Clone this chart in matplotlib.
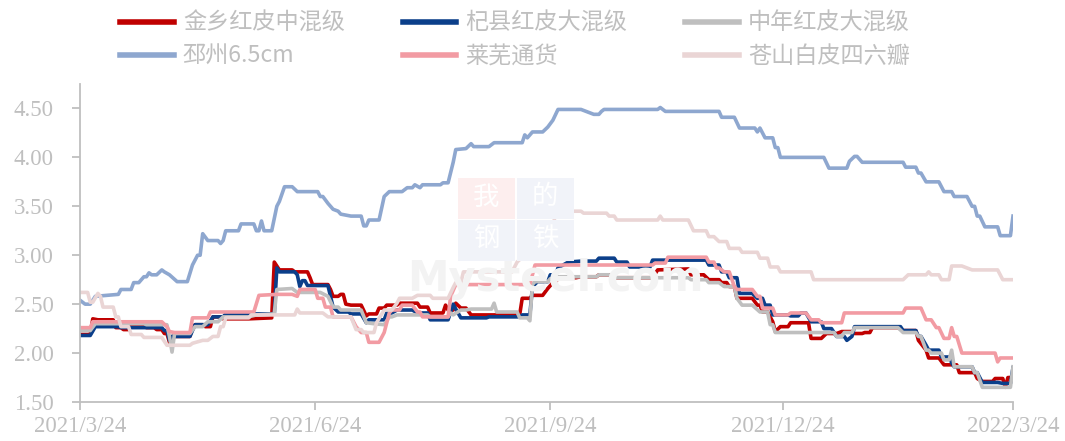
import matplotlib.pyplot as plt
import pandas as pd
from matplotlib.patches import Rectangle

plt.rcParams['font.family'] = ['Noto Sans CJK SC', 'DejaVu Sans']

start = pd.Timestamp('2021-03-24')

# days since 2021/3/24 and prices (yuan/kg)
jinxiang_days = [0, 4, 5, 7, 13, 14, 16, 17, 19, 20, 25, 26, 29, 30, 32, 33, 34, 35, 36, 43, 44, 45, 48, 49, 51,
                 52, 55, 56, 66, 75, 76, 78, 83, 84, 89, 90, 91, 97, 98, 99, 101, 102, 103, 104, 106, 110, 112, 113,
                 116, 117, 119, 120, 124, 125, 132, 133, 136, 137, 142, 143, 144, 146, 147, 149, 151, 153, 172, 173,
                 176, 177, 181, 183, 185, 186, 187, 194, 196, 202, 203, 207, 209, 224, 226, 238, 239, 244, 246, 250,
                 251, 253, 254, 256, 257, 263, 265, 266, 267, 269, 271, 272, 274, 277, 278, 285, 286, 290, 292, 296,
                 298, 302, 303, 306, 307, 309, 310, 320, 322, 327, 328, 331, 332, 336, 338, 343, 344, 350, 351, 353,
                 357, 358, 361, 362, 363, 365]
jinxiang_vals = [2.19, 2.19, 2.35, 2.34, 2.34, 2.26, 2.26, 2.24, 2.24, 2.29, 2.29, 2.26, 2.26, 2.24, 2.24, 2.20,
                 2.20, 2.11, 2.17, 2.17, 2.26, 2.29, 2.29, 2.27, 2.27, 2.37, 2.37, 2.35, 2.35, 2.36, 2.93, 2.85,
                 2.85, 2.83, 2.83, 2.77, 2.70, 2.70, 2.65, 2.58, 2.58, 2.60, 2.60, 2.50, 2.49, 2.49, 2.38, 2.40,
                 2.40, 2.46, 2.46, 2.49, 2.49, 2.51, 2.51, 2.47, 2.47, 2.41, 2.41, 2.49, 2.44, 2.44, 2.51, 2.46,
                 2.46, 2.39, 2.39, 2.56, 2.56, 2.59, 2.59, 2.66, 2.72, 2.72, 2.77, 2.77, 2.78, 2.78, 2.80, 2.80,
                 2.77, 2.77, 2.85, 2.86, 2.80, 2.80, 2.75, 2.75, 2.72, 2.72, 2.68, 2.68, 2.56, 2.56, 2.49, 2.49,
                 2.42, 2.42, 2.32, 2.22, 2.27, 2.27, 2.31, 2.31, 2.15, 2.15, 2.20, 2.20, 2.22, 2.22, 2.20, 2.20,
                 2.21, 2.21, 2.26, 2.26, 2.23, 2.23, 2.13, 2.03, 1.95, 1.95, 1.88, 1.88, 1.80, 1.80, 1.74, 1.71,
                 1.71, 1.74, 1.74, 1.65, 1.75, 1.75]

qixian_days = [0, 4, 6, 15, 16, 32, 33, 34, 35, 36, 43, 45, 50, 52, 56, 57, 76, 77, 78, 84, 85, 86, 87, 88, 89, 97,
               99, 101, 105, 106, 110, 112, 113, 119, 120, 122, 124, 130, 132, 136, 137, 144, 146, 147, 149, 159,
               160, 172, 173, 176, 177, 179, 183, 184, 186, 187, 191, 196, 202, 203, 209, 210, 214, 215, 223, 224,
               245, 246, 250, 251, 253, 254, 257, 258, 263, 265, 267, 268, 270, 271, 277, 278, 281, 282, 284, 286,
               290, 291, 294, 296, 299, 300, 302, 303, 321, 322, 327, 328, 329, 331, 332, 336, 337, 340, 341, 342,
               349, 350, 351, 353, 359, 361, 364, 365]
qixian_vals = [2.18, 2.18, 2.27, 2.27, 2.26, 2.26, 2.23, 2.23, 2.13, 2.17, 2.17, 2.29, 2.29, 2.37, 2.37, 2.40,
               2.40, 2.87, 2.83, 2.83, 2.80, 2.68, 2.74, 2.74, 2.69, 2.69, 2.47, 2.42, 2.42, 2.40, 2.40, 2.31,
               2.34, 2.34, 2.41, 2.41, 2.44, 2.44, 2.41, 2.41, 2.34, 2.34, 2.50, 2.45, 2.36, 2.36, 2.37, 2.37,
               2.39, 2.39, 2.68, 2.73, 2.73, 2.80, 2.80, 2.87, 2.93, 2.94, 2.94, 2.97, 2.97, 2.93, 2.93, 2.88,
               2.88, 2.95, 2.95, 2.90, 2.90, 2.83, 2.83, 2.77, 2.77, 2.61, 2.61, 2.56, 2.56, 2.49, 2.49, 2.39,
               2.39, 2.38, 2.38, 2.41, 2.41, 2.32, 2.32, 2.25, 2.25, 2.17, 2.17, 2.13, 2.17, 2.27, 2.27, 2.23,
               2.23, 2.17, 2.17, 2.08, 2.03, 2.03, 1.96, 1.96, 1.90, 1.86, 1.86, 1.80, 1.80, 1.70, 1.70, 1.69,
               1.69, 1.85]

zhongmou_days = [0, 4, 6, 25, 26, 34, 35, 36, 37, 43, 45, 48, 50, 54, 56, 66, 69, 76, 77, 83, 85, 94, 97, 99, 101,
                 102, 110, 112, 115, 119, 121, 122, 124, 136, 137, 144, 145, 146, 149, 151, 153, 161, 162, 163, 171,
                 172, 175, 176, 177, 178, 183, 184, 186, 187, 202, 203, 207, 209, 238, 239, 245, 246, 250, 252, 256,
                 257, 259, 263, 266, 269, 270, 271, 272, 295, 296, 298, 299, 302, 303, 320, 322, 327, 328, 329, 331,
                 332, 333, 337, 338, 340, 341, 342, 349, 350, 351, 353, 364, 365]
zhongmou_vals = [2.23, 2.23, 2.30, 2.30, 2.29, 2.29, 2.17, 2.01, 2.20, 2.20, 2.27, 2.27, 2.32, 2.32, 2.37, 2.37,
                 2.39, 2.40, 2.65, 2.66, 2.62, 2.62, 2.58, 2.47, 2.47, 2.44, 2.44, 2.31, 2.30, 2.29, 2.37, 2.37,
                 2.39, 2.39, 2.37, 2.37, 2.41, 2.39, 2.44, 2.44, 2.45, 2.45, 2.51, 2.42, 2.42, 2.36, 2.36, 2.33,
                 2.70, 2.73, 2.73, 2.76, 2.76, 2.78, 2.78, 2.80, 2.80, 2.77, 2.77, 2.75, 2.75, 2.72, 2.72, 2.68,
                 2.68, 2.56, 2.49, 2.49, 2.42, 2.42, 2.29, 2.29, 2.21, 2.21, 2.17, 2.17, 2.21, 2.21, 2.26, 2.26,
                 2.21, 2.21, 2.17, 2.17, 2.03, 2.03, 2.00, 2.00, 1.93, 1.93, 2.03, 1.86, 1.86, 1.80, 1.80, 1.65,
                 1.65, 1.86]

pizhou_days = [0, 2, 4, 6, 15, 16, 20, 21, 23, 25, 26, 27, 28, 30, 32, 33, 35, 38, 42, 44, 46, 47, 48, 50, 54, 55,
               56, 57, 62, 63, 68, 69, 70, 71, 72, 75, 77, 78, 80, 83, 85, 93, 94, 95, 97, 99, 101, 102, 106, 110,
               111, 112, 113, 117, 119, 121, 126, 128, 130, 131, 133, 134, 141, 142, 144, 146, 147, 151, 153, 154,
               160, 162, 173, 174, 175, 177, 181, 183, 185, 187, 196, 198, 201, 203, 204, 205, 226, 227, 229, 250,
               251, 256, 258, 264, 265, 266, 268, 271, 272, 273, 274, 291, 293, 300, 301, 303, 304, 306, 322, 323,
               327, 328, 329, 331, 336, 338, 341, 342, 347, 349, 350, 351, 352, 354, 359, 360, 364, 365]
pizhou_vals = [2.54, 2.50, 2.50, 2.58, 2.60, 2.65, 2.65, 2.72, 2.72, 2.78, 2.78, 2.82, 2.80, 2.80, 2.85, 2.83,
               2.80, 2.73, 2.73, 2.90, 3.00, 3.00, 3.22, 3.15, 3.15, 3.12, 3.15, 3.25, 3.25, 3.32, 3.32, 3.25,
               3.25, 3.35, 3.25, 3.25, 3.50, 3.55, 3.70, 3.70, 3.65, 3.65, 3.60, 3.60, 3.53, 3.47, 3.45, 3.42,
               3.40, 3.40, 3.30, 3.30, 3.36, 3.36, 3.60, 3.65, 3.65, 3.69, 3.69, 3.72, 3.69, 3.72, 3.72, 3.74,
               3.74, 3.95, 4.08, 4.09, 4.14, 4.11, 4.11, 4.15, 4.15, 4.23, 4.20, 4.26, 4.26, 4.31, 4.38, 4.49,
               4.49, 4.47, 4.44, 4.44, 4.47, 4.49, 4.49, 4.51, 4.47, 4.47, 4.41, 4.41, 4.30, 4.30, 4.26, 4.30,
               4.20, 4.20, 4.10, 4.10, 4.00, 4.00, 3.89, 3.89, 3.96, 4.01, 4.01, 3.95, 3.95, 3.90, 3.90, 3.84,
               3.84, 3.75, 3.75, 3.65, 3.65, 3.60, 3.60, 3.50, 3.50, 3.40, 3.40, 3.29, 3.29, 3.20, 3.20, 3.40]

laiwu_days = [0, 4, 5, 32, 34, 35, 37, 43, 44, 50, 51, 68, 70, 77, 83, 85, 86, 91, 92, 93, 95, 96, 98, 99, 106, 108,
              110, 112, 113, 117, 119, 121, 122, 125, 126, 130, 132, 133, 134, 144, 145, 147, 176, 178, 224, 225,
              229, 230, 245, 246, 248, 249, 250, 252, 254, 256, 257, 263, 265, 266, 267, 271, 272, 277, 278, 284,
              286, 289, 290, 298, 299, 322, 323, 329, 331, 333, 335, 336, 338, 340, 341, 342, 343, 345, 358, 359,
              360, 365]
laiwu_vals = [2.26, 2.26, 2.32, 2.32, 2.27, 2.22, 2.21, 2.21, 2.36, 2.36, 2.42, 2.42, 2.59, 2.60, 2.60, 2.58,
              2.65, 2.65, 2.65, 2.56, 2.56, 2.47, 2.47, 2.37, 2.37, 2.27, 2.21, 2.21, 2.11, 2.11, 2.21, 2.41,
              2.44, 2.44, 2.49, 2.49, 2.42, 2.42, 2.37, 2.37, 2.58, 2.70, 2.70, 2.90, 2.90, 2.92, 2.92, 2.98,
              2.98, 2.93, 2.93, 2.87, 2.87, 2.83, 2.83, 2.68, 2.65, 2.65, 2.58, 2.58, 2.46, 2.46, 2.39, 2.39,
              2.41, 2.41, 2.34, 2.34, 2.31, 2.31, 2.41, 2.41, 2.46, 2.46, 2.34, 2.34, 2.26, 2.26, 2.15, 2.15,
              2.26, 2.17, 2.17, 2.00, 2.00, 1.91, 1.95, 1.95]

cangshan_days = [0, 3, 4, 5, 7, 8, 9, 13, 14, 15, 16, 19, 20, 24, 25, 32, 34, 43, 44, 48, 50, 52, 54, 55, 56, 57,
                 66, 67, 84, 85, 86, 95, 97, 106, 108, 110, 111, 115, 116, 119, 122, 124, 125, 130, 132, 137, 138,
                 144, 146, 147, 149, 150, 169, 171, 173, 176, 177, 184, 186, 187, 196, 197, 206, 207, 209, 210, 226,
                 227, 228, 238, 240, 245, 246, 248, 250, 253, 254, 258, 259, 265, 266, 269, 270, 273, 274, 286, 287,
                 322, 324, 331, 332, 333, 336, 337, 340, 341, 345, 347, 349, 359, 361, 365]
cangshan_vals = [2.62, 2.62, 2.52, 2.52, 2.61, 2.58, 2.47, 2.47, 2.37, 2.37, 2.27, 2.27, 2.19, 2.19, 2.16, 2.16,
                 2.08, 2.08, 2.10, 2.13, 2.13, 2.17, 2.17, 2.27, 2.27, 2.36, 2.36, 2.39, 2.39, 2.45, 2.41, 2.41,
                 2.37, 2.37, 2.24, 2.24, 2.21, 2.21, 2.31, 2.44, 2.44, 2.51, 2.56, 2.56, 2.59, 2.59, 2.56, 2.56,
                 2.67, 2.72, 2.72, 2.83, 2.83, 2.93, 2.98, 3.09, 3.13, 3.13, 3.43, 3.45, 3.45, 3.43, 3.43, 3.40,
                 3.40, 3.36, 3.36, 3.40, 3.36, 3.36, 3.25, 3.25, 3.19, 3.19, 3.14, 3.14, 3.07, 3.07, 3.03, 3.03,
                 2.97, 2.97, 2.88, 2.88, 2.83, 2.83, 2.75, 2.75, 2.80, 2.80, 2.83, 2.80, 2.80, 2.75, 2.75, 2.89,
                 2.89, 2.87, 2.85, 2.85, 2.75, 2.75]

series = [
    ('金乡红皮中混级', jinxiang_days, jinxiang_vals, '#c00000'),
    ('杞县红皮大混级', qixian_days, qixian_vals, '#0b3f8a'),
    ('中年红皮大混级', zhongmou_days, zhongmou_vals, '#bfbfbf'),
    ('邳州6.5cm', pizhou_days, pizhou_vals, '#8ea7cf'),
    ('莱芜通货', laiwu_days, laiwu_vals, '#f29ba3'),
    ('苍山白皮四六瓣', cangshan_days, cangshan_vals, '#ead5d5'),
]

tick_dates = ['2021-03-24', '2021-06-24', '2021-09-24', '2021-12-24', '2022-03-24']
tick_labels = ['2021/3/24', '2021/6/24', '2021/9/24', '2021/12/24', '2022/3/24']
y_ticks = [1.5, 2.0, 2.5, 3.0, 3.5, 4.0, 4.5]

W, H = 1065, 441
fig = plt.figure(figsize=(W / 100, H / 100), dpi=100)
ax = fig.add_axes([80 / W, 39 / H, 933 / W, 318 / H])

txt = '#bfbfbf'

# faint watermark behind the lines
for (x0, y0), ch, fc in [((458, 178), '我', '#fdeeee'), ((517, 178), '的', '#f1f3f9'),
                         ((458, 220), '钢', '#f1f3f9'), ((517, 220), '铁', '#f1f3f9')]:
    fig.patches.append(Rectangle((x0 / W, 1 - (y0 + 41) / H), 57 / W, 41 / H,
                                 transform=fig.transFigure, facecolor=fc, edgecolor='none', zorder=0))
    fig.text((x0 + 28) / W, 1 - (y0 + 19) / H, ch, color='white', fontsize=19,
             ha='center', va='center', zorder=0.5)
fig.text(555 / W, 1 - 279 / H, 'Mysteel.com', color='#f3f3f3', fontsize=30, fontweight='bold',
         ha='center', va='center', zorder=0.6, family='DejaVu Sans')
ax.patch.set_alpha(0)

lines = []
for name, d, v, c in series:
    x = start + pd.to_timedelta(d, unit='D')
    ln, = ax.plot(x, v, color=c, lw=2.6, label=name, solid_joinstyle='round')
    lines.append(ln)

ax.set_xlim(pd.Timestamp(tick_dates[0]), pd.Timestamp(tick_dates[-1]))
ax.set_ylim(1.5, 4.75)
ax.set_xticks(pd.to_datetime(tick_dates))
ax.set_xticklabels(tick_labels)
ax.set_yticks(y_ticks)
ax.set_yticklabels([f'{t:.2f}' for t in y_ticks])

for s in ['top', 'right']:
    ax.spines[s].set_visible(False)
for s in ['left', 'bottom']:
    ax.spines[s].set_color('#bfbfbf')
    ax.spines[s].set_linewidth(1.3)

ax.tick_params(axis='both', colors='#bfbfbf', length=6, width=1.3, labelcolor=txt)
ax.tick_params(axis='x', pad=4)
ax.tick_params(axis='y', pad=13)
for lab in ax.get_xticklabels() + ax.get_yticklabels():
    lab.set_family(['Liberation Serif'])
    lab.set_fontsize(16.5)

# legend filled row by row (matplotlib fills columns first)
order = [0, 3, 1, 4, 2, 5]
leg = fig.legend([lines[i] for i in order], [series[i][0] for i in order],
                 loc='center', bbox_to_anchor=(515 / W, 1 - 40 / H), ncol=3, frameon=False,
                 fontsize=16.7, handlelength=2.3, handletextpad=0.4, columnspacing=2.5,
                 labelspacing=0.45)
for t in leg.get_texts():
    t.set_color(txt)
for h in leg.legend_handles:
    h.set_linewidth(4)

fig.savefig('out.png', dpi=100)
